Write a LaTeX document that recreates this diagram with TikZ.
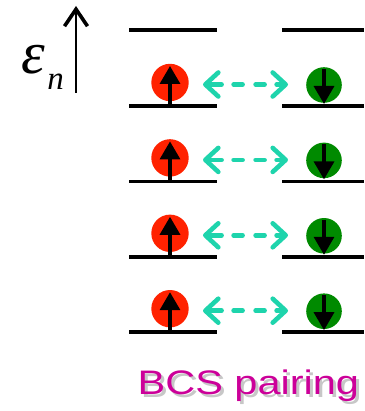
\documentclass[tikz,border=0pt]{standalone}
\usepackage{fontspec}
\newfontfamily\labelfont{Liberation Sans}
\newfontfamily\symfont{Liberation Serif}
\usetikzlibrary{arrows.meta}
\definecolor{spinred}{RGB}{255,34,0}
\definecolor{spingreen}{RGB}{0,138,0}
\definecolor{pairteal}{RGB}{30,212,172}
\definecolor{bcsmagenta}{RGB}{204,0,153}
\tikzset{
  level/.style={line width=3.5pt},
  upspin/.style={circle, fill=spinred, minimum size=37.4pt, inner sep=0pt},
  downspin/.style={circle, fill=spingreen, minimum size=35.6pt, inner sep=0pt},
  spinarrow/.style={line width=3.4pt, -{Triangle[length=18pt 0 0,width=20pt 0 0]}},
  pairtip/.tip={Straight Barb[length=13pt 0 0,width=24pt 0 0,line width=4.6pt,line cap=round,line join=round]},
  pairline/.style={draw=pairteal, line width=4.6pt, line cap=round,
    dash pattern=on 14pt off 12pt on 9pt off 13pt on 9pt off 12pt on 40pt,
    pairtip-pairtip},
  axisarrow/.style={line width=2.6pt, -{Straight Barb[length=17pt 0 0,width=23pt 0 0,line width=3.6pt]}},
  caption/.style={anchor=base west, inner sep=0pt},
}
\newcommand{\captiontext}{\scalebox{1.22}[1]{\labelfont\fontsize{34}{34}\selectfont BCS pairing}}
\begin{document}
\begin{tikzpicture}[x=1pt,y=-1pt]
\useasboundingbox (0,0) rectangle (364,411);

% energy axis
\coordinate (axbot) at (76,93);
\coordinate (axtop) at (76,6);
\draw[axisarrow] (axbot) -- (axtop);
\node[anchor=base, inner sep=0pt] (eps) at (33,74)
  {\symfont\itshape\fontsize{60}{60}\selectfont ε};
\node[anchor=base, inner sep=0pt] (sub) at (55.5,90)
  {\symfont\itshape\fontsize{33}{33}\selectfont n};

% empty top level pair
\coordinate (tl0) at (129,30);
\coordinate (tl1) at (217,30);
\coordinate (tr0) at (282,30);
\coordinate (tr1) at (364,30);
\draw[level] (tl0) -- (tl1);
\draw[level] (tr0) -- (tr1);

% occupied levels with paired spins
\foreach \k/\y in {1/106,2/181.4,3/256.8,4/332.2}{
  \coordinate (l\k a) at (129,\y);
  \coordinate (l\k b) at (217,\y);
  \coordinate (r\k a) at (282,\y);
  \coordinate (r\k b) at (364,\y);
  \node[upspin] (up\k) at (170,\y-23.5) {};
  \node[downspin] (dn\k) at (324,\y-21) {};
  \draw[level] (l\k a) -- (l\k b);
  \draw[level] (r\k a) -- (r\k b);
  \coordinate (ua\k) at (170,\y-1);
  \coordinate (ub\k) at (170,\y-40);
  \draw[spinarrow] (ua\k) -- (ub\k);
  \coordinate (da\k) at (324,\y-37);
  \coordinate (db\k) at (324,\y-2);
  \draw[spinarrow] (da\k) -- (db\k);
  \coordinate (pa\k) at (203,\y-21.5);
  \coordinate (pb\k) at (288,\y-21.5);
  \draw[pairline] (pa\k) -- (pb\k);
}

% caption with a soft drop shadow
\node[caption, text=black, opacity=0.22] (captionshadow) at (140.5,397) {\captiontext};
\node[caption, text=bcsmagenta] (caption) at (137.5,394) {\captiontext};
\end{tikzpicture}
\end{document}
